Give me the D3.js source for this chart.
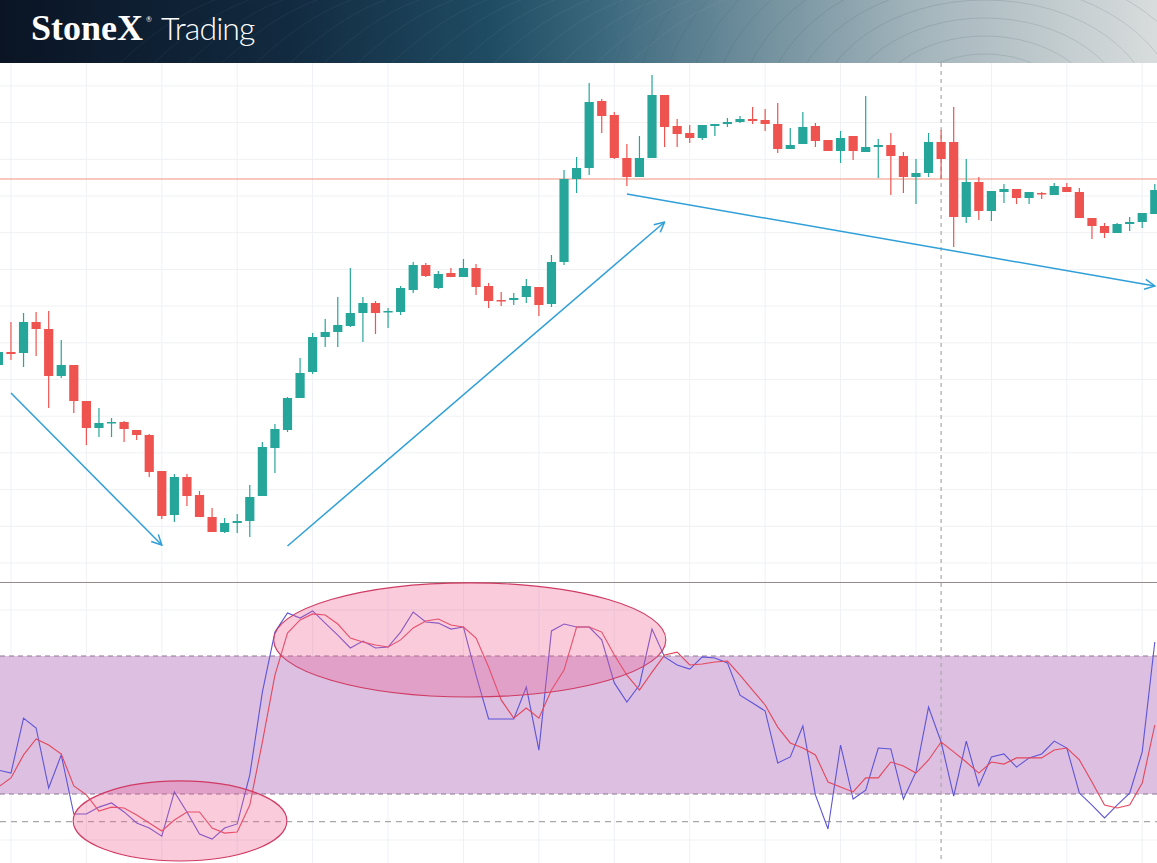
<!DOCTYPE html>
<html><head><meta charset="utf-8">
<script src="https://cdn.jsdelivr.net/npm/d3@7"></script>
<style>html,body{margin:0;padding:0;background:#fff;overflow:hidden}svg{display:block}</style>
</head><body>
<svg id="c" width="1157" height="863"></svg>
<script>
// ---- DATA (prices in arbitrary chart units) ----
const opens  = [235,248,247,278,271,224,235,199,172,177, 178,170,165,129,85,123,105,83,68,77, 79,104,152,170,202,228,263,268,274,287, 297,288,288,310,335,312,327,323,332,314, 300,300,303,313,296,338,421,432,499,485, 442,423,442,505,474,467,462,474,476,478, 481,480,476,451,456,474,460,449,464,448, 453,455,444,423,427,458,458,383,418,389, 408,411,402,407,405,413,408,382,374,367, 376,378,386];
const highs  = [250,278,287,288,289,260,235,199,192,182, 179,170,166,129,126,126,109,92,82,86, 115,158,176,203,242,267,281,303,332,303, 299,292,314,338,337,329,332,341,336,317, 308,307,321,313,345,430,443,517,501,488, 456,464,525,505,481,475,475,476,482,484, 493,491,497,472,488,477,460,469,464,504, 461,467,448,441,467,470,493,441,423,409, 416,411,408,408,417,417,412,382,377,377, 383,387,416];
const lows   = [233,240,233,244,192,222,187,155,163,163, 158,160,123,81,78,94,83,68,67,67, 63,104,127,168,202,226,253,253,273,258, 266,272,285,307,323,311,323,323,305,292, 294,295,297,284,293,335,407,425,467,441, 414,423,442,453,453,457,460,464,473,477, 476,469,447,451,456,453,449,437,440,448, 422,405,407,396,423,421,353,377,380,379, 397,396,396,401,405,408,382,361,362,367, 369,372,386];
const closes = [248,246,278,271,224,235,199,172,177,178, 171,165,128,84,123,104,83,68,77,79, 103,153,171,202,227,263,268,275,287,297, 287,289,312,335,324,326,323,332,313,299, 299,302,314,295,338,421,432,498,484,442, 423,442,505,473,466,462,475,476,478,481, 479,476,451,455,473,459,449,462,449,453, 455,444,423,427,458,441,383,418,389,409, 411,402,408,406,414,408,382,374,367,376, 378,387,410];
const stochK = [30.4,29.1,53.0,48.7,22.6,37.0,11.3,11.3,14.3,16.1, 12.2,7.4,5.2,1.7,20.9,12.2,2.6,0.4,5.2,7.0, 28.3,64.3,90.4,98.7,96.5,99.6,94.3,89.1,83.5,86.5, 83.5,83.9,90.4,99.1,94.8,94.3,91.7,92.6,71.7,52.6, 52.6,52.6,66.5,39.1,90.9,93.9,92.6,92.6,87.0,68.3, 60.0,67.4,91.7,79.6,76.1,74.3,79.6,79.1,77.0,63.0, 59.6,56.1,33.5,36.1,49.6,19.6,4.8,41.3,17.8,21.7, 40.0,39.6,17.8,29.6,57.8,42.6,19.1,43.0,23.5,36.1, 37.4,31.7,35.7,37.4,43.0,40.0,20.4,15.2,9.6,15.2, 20.4,38.3,86.1];
const stochD = [23.0,27.0,37.0,43.9,41.3,37.4,23.5,19.6,12.6,14.3, 13.9,10.9,7.4,3.9,8.7,12.2,12.2,5.2,3.0,3.5, 15.2,42.6,71.7,90.0,95.7,98.3,97.8,93.9,87.8,86.1, 84.8,83.9,87.0,92.2,95.2,96.1,93.5,92.6,87.8,75.2, 60.9,53.0,57.4,53.0,65.2,73.9,92.6,92.6,90.4,80.4, 71.7,65.2,73.0,80.4,81.7,76.1,76.5,77.4,77.8,71.7, 65.2,58.7,49.1,42.2,40.0,37.0,25.2,23.0,20.9,27.0, 27.0,33.9,32.2,29.1,34.8,42.6,38.3,33.9,29.1,33.9, 33.0,35.7,35.7,35.7,39.1,40.0,34.8,25.2,15.2,13.9, 15.2,24.8,50.0];
const bandLevels = [80, 20];
const lowerLevel = 8;
const priceLine = 421;
const crosshairIndex = 75;
// annotations in data coordinates: [index, price]
const arrowStarts = [[1,207],[23,54],[50,406]];
const arrowEnds   = [[13,55],[53,378],[92,314]];
// ellipses: [centerIndex, centerValue, radiusIndex, radiusValue]
const ellipses = [[14.45,8.3,8.5,17.4],[37.5,87,15.6,24.8]];
const titleMain = "StoneX";
const titleSub = "Trading";

// ---- CHART ----
const W = 1157, H = 863, TOP = 63, SEP = 582;
const svg = d3.select('#c');
const n = closes.length;
const x = d3.scaleLinear().domain([0, n - 1]).range([-1.6, 1154.8]);
const yP = d3.scaleLinear().domain([0, 540]).range([600, 60]);
const yS = d3.scaleLinear().domain([0, 100]).range([840, 610]);

const defs = svg.append('defs');
const grad = defs.append('linearGradient').attr('id', 'hdr').attr('x1', '0').attr('x2', '1').attr('y1', '0').attr('y2', '0');
[[0, '#0a1424'], [0.25, '#122a40'], [0.42, '#1f4b62'], [0.53, '#3f6b80'], [0.65, '#6f8e9c'], [0.8, '#a5b6bd'], [1, '#d8dcdc']]
  .forEach(([o, c]) => grad.append('stop').attr('offset', o).attr('stop-color', c));
defs.append('clipPath').attr('id', 'hclip').append('rect').attr('width', W).attr('height', TOP);
defs.append('marker').attr('id', 'arr').attr('viewBox', '0 0 12 12').attr('refX', 11).attr('refY', 6)
  .attr('markerWidth', 12).attr('markerHeight', 12).attr('markerUnits', 'userSpaceOnUse').attr('orient', 'auto')
  .append('path').attr('d', 'M1,1 L11,6 L1,11').attr('fill', 'none').attr('stroke', '#2f9fd8').attr('stroke-width', 1.5);

svg.append('rect').attr('width', W).attr('height', H).attr('fill', '#fff');

// grid
const g = svg.append('g');
g.selectAll('.vg').data(d3.range(1, n, 6)).join('line')
  .attr('x1', d => x(d)).attr('x2', d => x(d)).attr('y1', TOP).attr('y2', H)
  .attr('stroke', '#eff1f4').attr('stroke-width', 1);
g.selectAll('.hg').data(d3.range(37, 540, 36.7)).join('line')
  .attr('x1', 0).attr('x2', W).attr('y1', d => yP(d)).attr('y2', d => yP(d))
  .attr('stroke', '#eff1f4').attr('stroke-width', 1);
g.selectAll('.og').data([0, 100]).join('line')
  .attr('x1', 0).attr('x2', W).attr('y1', d => yS(d)).attr('y2', d => yS(d))
  .attr('stroke', '#eff1f4').attr('stroke-width', 1);

// oscillator band
svg.append('rect').attr('x', 0).attr('width', W)
  .attr('y', yS(bandLevels[0])).attr('height', yS(bandLevels[1]) - yS(bandLevels[0]))
  .attr('fill', '#dcbfe1');
svg.selectAll('.bl').data(bandLevels).join('line')
  .attr('x1', 0).attr('x2', W).attr('y1', d => yS(d)).attr('y2', d => yS(d))
  .attr('stroke', '#8c7592').attr('stroke-width', 1).attr('stroke-dasharray', '5,4');
svg.append('line').attr('x1', 0).attr('x2', W).attr('y1', yS(lowerLevel)).attr('y2', yS(lowerLevel))
  .attr('stroke', '#a8a8a8').attr('stroke-width', 1.3).attr('stroke-dasharray', '6,5');

// price line
svg.append('line').attr('x1', 0).attr('x2', W).attr('y1', yP(priceLine)).attr('y2', yP(priceLine))
  .attr('stroke', '#f0917f').attr('stroke-width', 1);

// separator
svg.append('line').attr('x1', 0).attr('x2', W).attr('y1', SEP + 0.5).attr('y2', SEP + 0.5)
  .attr('stroke', '#958a8a').attr('stroke-width', 1);

// crosshair
svg.append('line').attr('x1', x(crosshairIndex)).attr('x2', x(crosshairIndex)).attr('y1', TOP).attr('y2', H)
  .attr('stroke', '#a9a9a9').attr('stroke-width', 1.2).attr('stroke-dasharray', '4,4');

// candles
const candles = d3.range(n).map(i => ({i, o: opens[i], h: highs[i], l: lows[i], c: closes[i]}));
const cg = svg.append('g');
const col = d => d.c >= d.o ? '#26a69a' : '#ef5350';
cg.selectAll('.wick').data(candles).join('line')
  .attr('x1', d => x(d.i)).attr('x2', d => x(d.i))
  .attr('y1', d => yP(d.h)).attr('y2', d => yP(d.l))
  .attr('stroke', col).attr('stroke-width', 1.2);
cg.selectAll('.body').data(candles).join('rect')
  .attr('x', d => x(d.i) - 4.6).attr('width', 9.2)
  .attr('y', d => yP(Math.max(d.o, d.c)))
  .attr('height', d => Math.max(1.5, Math.abs(yP(d.o) - yP(d.c))))
  .attr('fill', col);

// arrows
svg.selectAll('.arrow').data(arrowStarts.map((s, k) => [s, arrowEnds[k]])).join('line')
  .attr('x1', d => x(d[0][0])).attr('y1', d => yP(d[0][1]))
  .attr('x2', d => x(d[1][0])).attr('y2', d => yP(d[1][1]))
  .attr('stroke', '#2f9fd8').attr('stroke-width', 1.5).attr('marker-end', 'url(#arr)');

// stochastic lines
const lineK = d3.line().x((d, i) => x(i)).y(d => yS(d));
svg.append('path').attr('d', lineK(stochK)).attr('fill', 'none').attr('stroke', '#5d55d8').attr('stroke-width', 1.1);
svg.append('path').attr('d', lineK(stochD)).attr('fill', 'none').attr('stroke', '#e5475a').attr('stroke-width', 1.1);

// ellipses
svg.selectAll('.ell').data(ellipses).join('ellipse')
  .attr('cx', d => x(d[0])).attr('cy', d => yS(d[1]))
  .attr('rx', d => x(d[2]) - x(0)).attr('ry', d => yS(0) - yS(d[3]))
  .attr('fill', 'rgba(236,96,146,0.33)').attr('stroke', '#cf3a62').attr('stroke-width', 1.1);

// header
const hd = svg.append('g').attr('clip-path', 'url(#hclip)');
hd.append('rect').attr('width', W).attr('height', TOP).attr('fill', 'url(#hdr)');
// faint diagonal strokes on the dark side
hd.selectAll('.dg').data(d3.range(0, 16)).join('path')
  .attr('d', k => { const x0 = 120 + k * 34; return `M${x0},${TOP} C${x0 + 25},${40} ${x0 + 55},${15} ${x0 + 95},0`; })
  .attr('fill', 'none').attr('stroke', '#ffffff').attr('stroke-opacity', 0.05).attr('stroke-width', 1);
// concentric contour arcs on the light side
hd.selectAll('.wv').data(d3.range(0, 16)).join('ellipse')
  .attr('cx', 985).attr('cy', 120)
  .attr('rx', k => 40 + k * 26).attr('ry', k => 30 + k * 18)
  .attr('fill', 'none').attr('stroke', '#3d5663').attr('stroke-opacity', 0.16).attr('stroke-width', 1);
hd.append('text').attr('x', 31).attr('y', 40).text(titleMain)
  .attr('fill', '#fff').attr('font-family', '"Liberation Serif", "DejaVu Serif", serif')
  .attr('font-weight', 'bold').attr('font-size', 36);
hd.append('text').attr('x', 146).attr('y', 22).text('®')
  .attr('fill', '#fff').attr('font-family', 'Lato, sans-serif').attr('font-size', 7);
hd.append('text').attr('x', 161).attr('y', 40).text(titleSub)
  .attr('fill', '#fff').attr('font-family', 'Lato, "Open Sans", sans-serif')
  .attr('font-weight', 300).attr('font-size', 32).attr('letter-spacing', -0.9);
</script>
</body></html>
